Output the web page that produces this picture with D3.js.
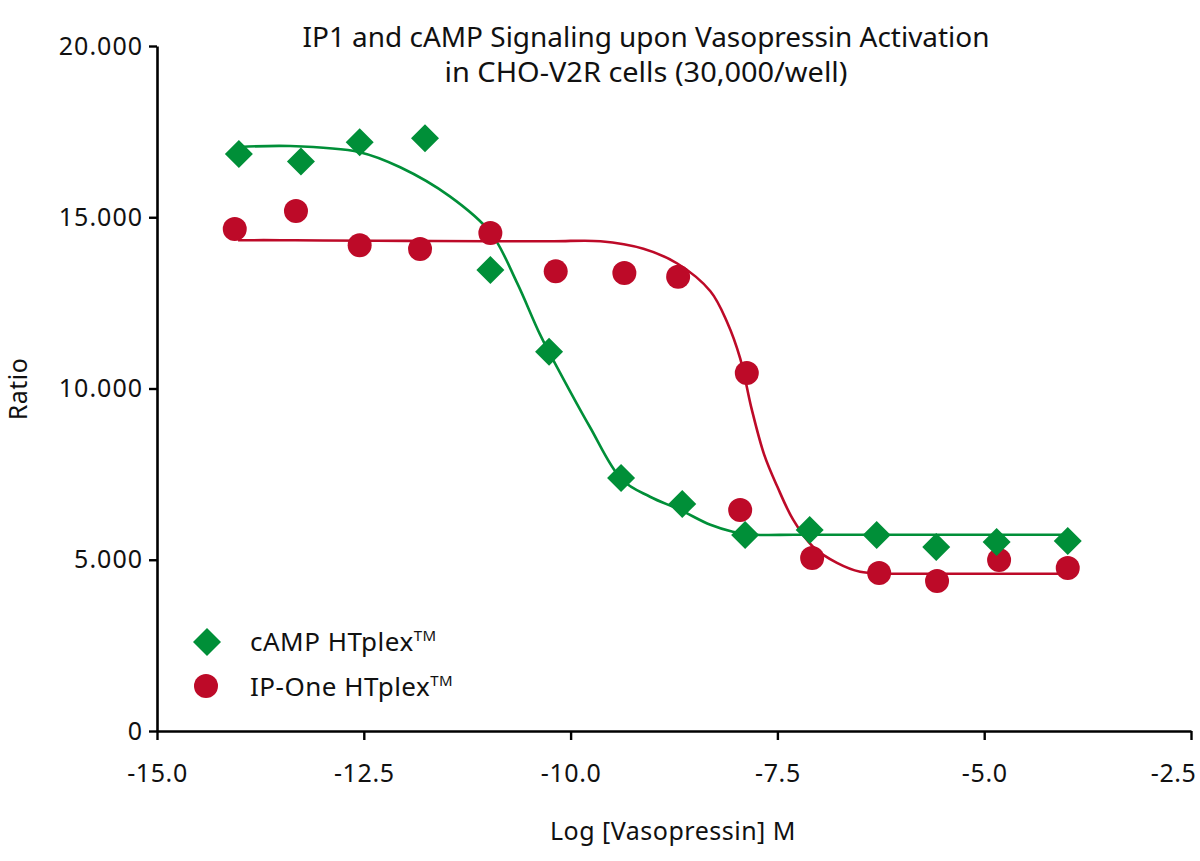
<!DOCTYPE html>
<html><head><meta charset="utf-8">
<script src="https://cdn.jsdelivr.net/npm/d3@7"></script>
<style>body{margin:0;background:#fff}svg{display:block}text{font-family:"Noto Sans",sans-serif;fill:#111}</style>
</head><body><svg id="c" width="1200" height="861"></svg>
<script>
const xTicks = [-15.0, -12.5, -10.0, -7.5, -5.0, -2.5];
const yTicks = [0, 5000, 10000, 15000, 20000];
const yTickLabels = ["0", "5.000", "10.000", "15.000", "20.000"];

const campX = [-14.01, -13.26, -12.55, -11.76, -10.97, -10.26, -9.39, -8.65, -7.89, -7.11, -6.30, -5.58, -4.85, -3.99];
const campY = [16850, 16630, 17190, 17310, 13460, 11070, 7390, 6630, 5720, 5870, 5720, 5370, 5520, 5550];

const ipX = [-14.06, -13.32, -12.55, -11.82, -10.97, -10.18, -9.35, -8.70, -7.87, -7.95, -7.08, -6.27, -5.57, -4.82, -3.99];
const ipY = [14660, 15180, 14180, 14070, 14540, 13420, 13370, 13260, 10450, 6450, 5050, 4610, 4380, 4990, 4760];

// fitted curves
const campFitX = [-14.00, -13.39, -12.55, -12.06, -11.46, -10.97, -10.65, -10.37, -10.13, -9.77, -9.38, -9.04, -8.68, -8.31, -8.04, -7.75, -7.3, -6.5, -5.5, -4.5, -3.99];
const campFitY = [17050, 17080, 16900, 16460, 15610, 14560, 13100, 11580, 10470, 8890, 7340, 6840, 6460, 6020, 5820, 5730, 5730, 5730, 5730, 5730, 5730];
const ipFitX = [-14.02, -13.5, -13.0, -12.0, -11.0, -10.2, -9.64, -9.12, -8.71, -8.31, -8.11, -7.95, -7.81, -7.66, -7.50, -7.31, -7.07, -6.78, -6.50, -6.2, -5.5, -4.8, -4.00];
const ipFitY = [14330, 14330, 14320, 14310, 14300, 14300, 14300, 14080, 13650, 12840, 11950, 10880, 9390, 8070, 7130, 6170, 5380, 4910, 4650, 4600, 4590, 4590, 4590];

const GREEN = "#008f38", RED = "#bd0a28";

const svg = d3.select("#c");
const x = d3.scaleLinear().domain([-15, -2.5]).range([157, 1191]);
const y = d3.scaleLinear().domain([0, 20000]).range([731, 46]);

// axes
const xAxis = d3.axisBottom(x).tickValues(xTicks).tickSize(9).tickSizeOuter(0);
const gx = svg.append("g").attr("transform", "translate(0,731)").call(xAxis);
gx.select(".domain").attr("stroke", "#000").attr("stroke-width", 2.6);
gx.selectAll(".tick line").attr("stroke", "#000").attr("stroke-width", 2.4);
gx.selectAll(".tick text").attr("font-size", 25).attr("dy", "1.55em").attr("letter-spacing", "0.6px")
  .attr("fill", "#111").style("font-family", '"Noto Sans",sans-serif')
  .text(d => d3.format(".1f")(d).replace("\u2212", "-"))
  .filter(d => d === -2.5).attr("text-anchor", "end").attr("x", 5);

const yAxis = d3.axisLeft(y).tickValues(yTicks).tickFormat((d, i) => yTickLabels[i]).tickSize(8).tickSizeOuter(0);
const gy = svg.append("g").attr("transform", "translate(157,0)").call(yAxis);
gy.select(".domain").attr("stroke", "#000").attr("stroke-width", 2.6);
gy.selectAll(".tick line").attr("stroke", "#000").attr("stroke-width", 2.4);
gy.selectAll(".tick text").attr("font-size", 25).attr("x", -14).attr("letter-spacing", "1px")
  .attr("fill", "#111").style("font-family", '"Noto Sans",sans-serif');

// fitted lines
const line = d3.line().x(d => x(d[0])).y(d => y(d[1])).curve(d3.curveCatmullRom.alpha(0.5));
svg.append("path").attr("d", line(campFitX.map((v, i) => [v, campFitY[i]])))
  .attr("fill", "none").attr("stroke", GREEN).attr("stroke-width", 2.6);
svg.append("path").attr("d", line(ipFitX.map((v, i) => [v, ipFitY[i]])))
  .attr("fill", "none").attr("stroke", RED).attr("stroke-width", 2.6);

// markers
const diamond = d3.symbol().type(d3.symbolSquare).size(2 * 14 * 14);
svg.append("g").selectAll("circle").data(ipX.map((v, i) => [v, ipY[i]])).join("circle")
  .attr("cx", d => x(d[0])).attr("cy", d => y(d[1])).attr("r", 12).attr("fill", RED);
svg.append("g").selectAll("path").data(campX.map((v, i) => [v, campY[i]])).join("path")
  .attr("d", diamond).attr("fill", GREEN)
  .attr("transform", d => `translate(${x(d[0])},${y(d[1])}) rotate(45)`);

// legend
const leg = svg.append("g");
leg.append("path").attr("d", diamond).attr("fill", GREEN).attr("transform", "translate(207,642) rotate(45)");
leg.append("circle").attr("cx", 206).attr("cy", 686).attr("r", 12).attr("fill", RED);
const t1 = leg.append("text").attr("x", 250).attr("y", 651).attr("font-size", 26).attr("letter-spacing", "0.5px");
t1.append("tspan").text("cAMP HTplex");
t1.append("tspan").attr("font-size", 15).attr("dy", -10).text("TM");
const t2 = leg.append("text").attr("x", 250).attr("y", 696).attr("font-size", 26).attr("letter-spacing", "0.5px");
t2.append("tspan").text("IP-One HTplex");
t2.append("tspan").attr("font-size", 15).attr("dy", -10).text("TM");

// title
svg.append("text").attr("x", 646).attr("y", 47).attr("text-anchor", "middle").attr("font-size", 28)
  .attr("textLength", 687).attr("lengthAdjust", "spacingAndGlyphs")
  .text("IP1 and cAMP Signaling upon Vasopressin Activation");
svg.append("text").attr("x", 646).attr("y", 82).attr("text-anchor", "middle").attr("font-size", 28)
  .attr("textLength", 403).attr("lengthAdjust", "spacingAndGlyphs")
  .text("in CHO-V2R cells (30,000/well)");

// axis titles
svg.append("text").attr("x", 673).attr("y", 840).attr("text-anchor", "middle").attr("font-size", 25)
  .attr("letter-spacing", "0.5px").text("Log [Vasopressin] M");
svg.append("text").attr("transform", "translate(27,389) rotate(-90)").attr("text-anchor", "middle")
  .attr("font-size", 25).attr("letter-spacing", "0.5px").text("Ratio");
</script></body></html>
